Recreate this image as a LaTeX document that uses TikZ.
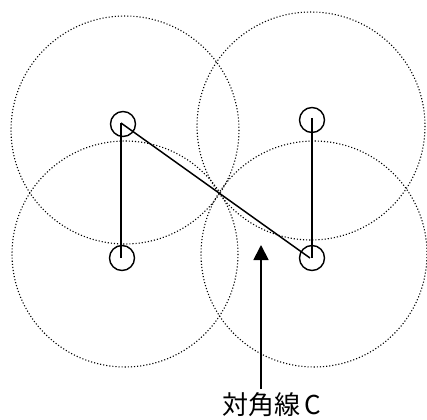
\documentclass[tikz,border=0pt]{standalone}
\usepackage{fontspec}
\newfontfamily\cjk{Noto Sans CJK JP}
\usetikzlibrary{arrows.meta}
\begin{document}
\begin{tikzpicture}[x=1pt,y=-1pt,
  bigcirc/.style={draw,line width=1.1pt,dash pattern=on 1.1pt off 2pt},
  station/.style={circle,draw,line width=1.4pt,minimum size=25pt,inner sep=0pt},
  link/.style={line width=1.5pt}]
\useasboundingbox (0,0) rectangle (427,419);
\draw[bigcirc] (125,130) circle (114);
\draw[bigcirc] (311,126) circle (114);
\draw[bigcirc] (125,254) circle (113);
\draw[bigcirc] (314,254) circle (113);
\node[station] (a) at (123,124) {};
\node[station] (b) at (312,120) {};
\node[station] (c) at (122,258) {};
\node[station] (d) at (312,258) {};
\coordinate (a0) at (121,123);
\coordinate (c0) at (121,258);
\coordinate (d0) at (310,258);
\coordinate (b0) at (312,118);
\coordinate (d1) at (312,258);
\draw[link] (a0) -- (c0);
\draw[link] (a0) -- (d0);
\draw[link] (b0) -- (d1);
\node[font=\cjk\fontsize{26}{28}\selectfont,inner sep=0pt] (lab) at (272,405) {対角線\hspace{4pt}C};
\coordinate (tip) at (261,245);
\coordinate (tail) at (261,389);
\draw[line width=1.8pt,-{Triangle[length=15pt,width=15pt]}] (tail) -- (tip);
\end{tikzpicture}
\end{document}
